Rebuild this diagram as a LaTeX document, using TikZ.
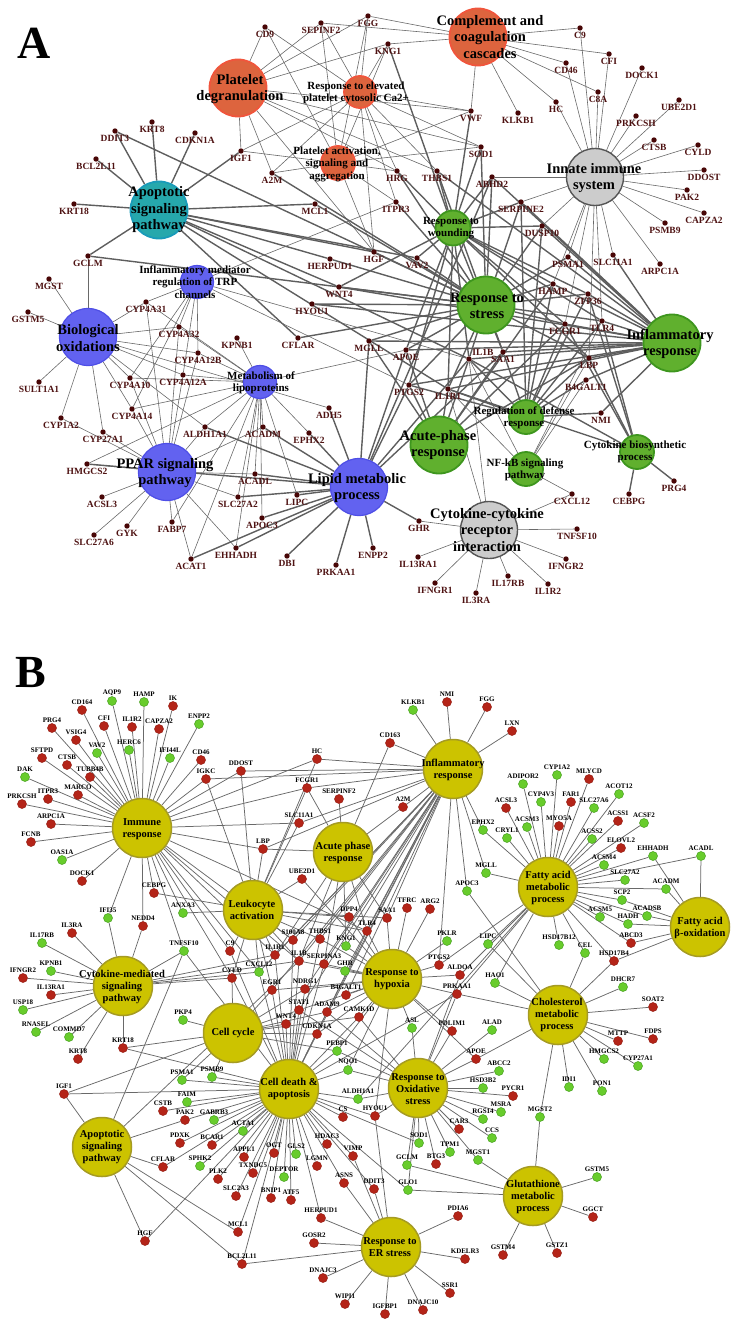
\documentclass[tikz,border=0pt]{standalone}
\usepackage{fontspec}
\setmainfont{Liberation Serif}
\usepackage{xcolor}
\usetikzlibrary{backgrounds}

\definecolor{pltfill}{RGB}{221,100,62}
\definecolor{pltline}{RGB}{240,85,60}
\definecolor{tealfill}{RGB}{38,168,172}
\definecolor{tealline}{RGB}{25,155,185}
\definecolor{grayfill}{RGB}{204,204,204}
\definecolor{grayline}{RGB}{85,85,85}
\definecolor{bluefill}{RGB}{98,98,240}
\definecolor{blueline}{RGB}{78,78,230}
\definecolor{greenfill}{RGB}{96,176,46}
\definecolor{greenline}{RGB}{62,150,30}
\definecolor{genedot}{RGB}{72,6,6}
\definecolor{genetext}{RGB}{78,18,18}
\definecolor{edgegray}{RGB}{105,105,105}
\definecolor{yelfill}{RGB}{204,195,0}
\definecolor{yelline}{RGB}{165,155,35}
\definecolor{redfill}{RGB}{180,36,24}
\definecolor{redline}{RGB}{150,30,20}
\definecolor{grnfill}{RGB}{104,204,44}
\definecolor{grnline}{RGB}{70,160,30}

\begin{document}
\begin{tikzpicture}[x=1pt, y=-1pt, every node/.style={font=\normalfont}]
    % Define styles
    \tikzstyle{ahub} = [circle, inner sep=0, line width=1.8]
    \tikzstyle{biglab} = [font=\bfseries\fontsize{14.5}{16.5}\selectfont, align=center, inner sep=0]
    \tikzstyle{smalllab} = [font=\bfseries\fontsize{11}{12.5}\selectfont, align=center, inner sep=0]
    \tikzstyle{agene} = [circle, fill=genedot, inner sep=0, minimum size=5.4]
    \tikzstyle{alabel} = [font=\bfseries\fontsize{9.5}{10}\selectfont, text=genetext, inner sep=0.5pt, label distance=0.8pt]
    \tikzstyle{thinline} = [draw=edgegray, line width=0.6]
    \tikzstyle{thickline} = [draw=edgegray!90!black, line width=1.4]
    \tikzstyle{bhub} = [circle, fill=yelfill, draw=yelline, line width=1.5, inner sep=0, minimum size=59]
    \tikzstyle{bhublab} = [font=\bfseries\fontsize{10.5}{12}\selectfont, align=center, inner sep=0]
    \tikzstyle{redgene} = [circle, fill=redfill, draw=redline, line width=0.5, inner sep=0, minimum size=9]
    \tikzstyle{greengene} = [circle, fill=grnfill, draw=grnline, line width=0.5, inner sep=0, minimum size=9]
    \tikzstyle{blabel} = [font=\bfseries\fontsize{7}{7.5}\selectfont, text=black, inner sep=0.3pt, label distance=0.6pt]
    \tikzstyle{bline} = [draw=edgegray, line width=0.75]

    \useasboundingbox (0,0) rectangle (738,1343);

    % ---------------- Panel A ----------------
    \node (panelA) at (34,43) {\bfseries\fontsize{46}{46}\selectfont A};

    % Platelet / complement hubs
    \node (plt-degr) [ahub, fill=pltfill, draw=pltline, minimum size=57] at (238,88) {};
    \node (plt-degr-t) [biglab] at (240,89) {Platelet\\degranulation};
    \node (plt-ca) [ahub, fill=pltfill, draw=pltline, minimum size=32] at (360,92) {};
    \node (plt-ca-t) [smalllab] at (356,93) {Response to elevated\\platelet cytosolic Ca2+};
    \node (plt-act) [ahub, fill=pltfill, draw=pltline, minimum size=34] at (338,163) {};
    \node (plt-act-t) [smalllab] at (337,164) {Platelet activation,\\signaling and\\aggregation};
    \node (compl) [ahub, fill=pltfill, draw=pltline, minimum size=57] at (478,37) {};
    \node (compl-t) [biglab] at (490,37) {Complement and\\coagulation\\cascades};

    % Apoptosis and immune hubs
    \node (apopA) [ahub, fill=tealfill, draw=tealline, minimum size=57] at (159,210) {};
    \node (apopA-t) [biglab] at (159,210) {Apoptotic\\signaling\\pathway};
    \node (innate) [ahub, fill=grayfill, draw=grayline, line width=1.4, minimum size=57] at (595,177) {};
    \node (innate-t) [biglab] at (594,178) {Innate immune\\system};
    \node (cytrec) [ahub, fill=grayfill, draw=grayline, line width=1.4, minimum size=57] at (489,530) {};
    \node (cytrec-t) [biglab] at (487,530) {Cytokine-cytokine\\receptor\\interaction};

    % Lipid hubs
    \node (trp) [ahub, fill=bluefill, draw=blueline, line width=1.2, minimum size=33] at (197,282) {};
    \node (trp-t) [smalllab] at (195,282) {Inflammatory mediator\\regulation of TRP\\channels};
    \node (biox) [ahub, fill=bluefill, draw=blueline, line width=1.2, minimum size=57] at (88,337) {};
    \node (biox-t) [biglab] at (88,338) {Biological\\oxidations};
    \node (lipo) [ahub, fill=bluefill, draw=blueline, line width=1.2, minimum size=33] at (260,382) {};
    \node (lipo-t) [smalllab] at (261,383) {Metabolism of\\lipoproteins};
    \node (ppar) [ahub, fill=bluefill, draw=blueline, line width=1.2, minimum size=57] at (167,472) {};
    \node (ppar-t) [biglab] at (165,473) {PPAR signaling\\pathway};
    \node (lipid) [ahub, fill=bluefill, draw=blueline, line width=1.2, minimum size=57] at (359,487) {};
    \node (lipid-t) [biglab] at (357,488) {Lipid metabolic\\process};

    % Stress and inflammation hubs
    \node (wound) [ahub, fill=greenfill, draw=greenline, minimum size=35] at (453,228) {};
    \node (wound-t) [smalllab] at (451,228) {Response to\\wounding};
    \node (stress) [ahub, fill=greenfill, draw=greenline, minimum size=57] at (486,305) {};
    \node (stress-t) [biglab] at (487,306) {Response to\\stress};
    \node (inflA) [ahub, fill=greenfill, draw=greenline, minimum size=57] at (672,343) {};
    \node (inflA-t) [biglab] at (670,344) {Inflammatory\\response};
    \node (acute) [ahub, fill=greenfill, draw=greenline, minimum size=57] at (439,445) {};
    \node (acute-t) [biglab] at (438,445) {Acute-phase\\response};
    \node (regdef) [ahub, fill=greenfill, draw=greenline, minimum size=34] at (526,417) {};
    \node (regdef-t) [smalllab] at (524,418) {Regulation of defense\\response};
    \node (nfkb) [ahub, fill=greenfill, draw=greenline, minimum size=34] at (526,469) {};
    \node (nfkb-t) [smalllab] at (525,470) {NF-kB signaling\\pathway};
    \node (cytbio) [ahub, fill=greenfill, draw=greenline, minimum size=34] at (637,452) {};
    \node (cytbio-t) [smalllab] at (635,452) {Cytokine biosynthetic\\process};

    % Genes of panel A
    \foreach \g/\gx/\gy in {DDIT3/115/131, KRT8/152/122, CDKN1A/195/133, BCL2L11/96/159, IGF1/241/151,
        KRT18/74/204, GCLM/88/256, MGST/49/279, CYP4A31/146/302, GSTM5/28/312,
        CD9/265/27, SEPINF2/321/23, FGG/368/16, KNG1/388/44, VWF/471/111, SOD1/481/147,
        A2M/272/173, HRG/397/171, THBS1/437/171, ABHD2/492/177, MCL1/315/204, ITPR3/396/202,
        HGF/374/252, HERPUD1/330/259, VAV2/417/258, WNT4/339/287, HYOU1/312/304,
        C9/580/28, CFI/609/54, CD46/566/63, DOCK1/642/68, C8A/598/92, HC/556/102, KLKB1/518/113,
        UBE2D1/679/100, PRKCSH/636/116, CTSB/654/140, CYLD/698/145, DDOST/704/170, PAK2/687/190,
        CAPZA2/704/213, PSMB9/665/223, ARPC1A/660/264, SERPINE2/521/202, DUSP10/542/226,
        PSMA1/568/257, SLC11A1/613/255, HAMP/553/284, ZFP36/588/294,
        FCGR1/565/324, TLR4/602/321, SAA1/503/352, LBP/589/358, B4GALT1/586/380, NMI/601/413,
        PRG4/674/481, CEBPG/629/494, CXCL12/572/494, TNFSF10/577/529, IFNGR2/566/559,
        IL17RB/508/576, IL1R2/548/584,
        CFLAR/298/338, MGLL/369/341, APOE/406/350, PTGS2/409/385, IL1R1/448/389, ADH5/329/408,
        ACADM/263/427, EPHX2/309/433, ACADL/255/474, LIPC/297/495, APOC3/262/518, DBI/287/556,
        PRKAA1/336/565, ENPP2/373/548, GHR/419/521, IL13RA1/418/557, IFNGR1/435/583, IL3RA/476/593,
        CYP4A32/179/327, KPNB1/237/338, CYP4A12B/198/353, CYP4A12A/183/375, CYP4A10/130/378,
        SULT1A1/39/382, CYP4A14/132/409, CYP1A2/61/418, CYP27A1/103/432, ALDH1A1/205/427,
        HMGCS2/87/464, ACSL3/102/497, SLC27A6/94/535, GYK/127/526, FABP7/172/522, ACAT1/191/559,
        EHHADH/236/548, SLC27A2/238/497}
        \node (a-\g) [agene, label={[alabel]below:\g}] at (\gx,\gy) {};
    \node (a-IL1B) [agene, label={[alabel]above right:IL1B}] at (469,359) {};

    % Edges of panel A
    \begin{scope}[on background layer]
        \foreach \g in {CD9,SEPINF2,FGG,KNG1,VWF,SOD1,IGF1,A2M,HRG,THBS1,HGF}
            \draw [thinline] (plt-degr) -- (a-\g);
        \foreach \g in {CD9,SEPINF2,FGG,KNG1,VWF,SOD1,IGF1,A2M,HRG,THBS1,ITPR3,HGF}
            \draw [thinline] (plt-ca) -- (a-\g);
        \foreach \g in {CD9,SEPINF2,FGG,KNG1,VWF,SOD1,IGF1,A2M,HRG,ITPR3,HGF}
            \draw [thinline] (plt-act) -- (a-\g);
        \foreach \g in {FGG,KNG1,SEPINF2,C9,CFI,CD46,C8A,HC,KLKB1,VWF}
            \draw [thinline] (compl) -- (a-\g);
        \foreach \g in {C9,CFI,CD46,C8A,HC,DOCK1,PRKCSH,UBE2D1,CTSB,CYLD,DDOST,PAK2,CAPZA2,PSMB9,
            ARPC1A,SLC11A1,PSMA1,DUSP10,SERPINE2,ABHD2,HAMP,FCGR1,TLR4,LBP}
            \draw [thinline] (innate) -- (a-\g);
        \foreach \g in {DDIT3,KRT8,CDKN1A,BCL2L11,IGF1,KRT18,GCLM,MCL1,HGF,HERPUD1,VAV2,WNT4,CFLAR,IL1B,IL1R1}
            \draw [thickline] (apopA) -- (a-\g);
        \foreach \g in {CYP4A31,CYP4A32,CYP4A12B,CYP4A12A,CYP4A10,CYP4A14,ITPR3,IL1B,PTGS2}
            \draw [thinline] (trp) -- (a-\g);
        \foreach \g in {GSTM5,MGST,SULT1A1,CYP1A2,CYP27A1,CYP4A31,CYP4A32,CYP4A12B,CYP4A12A,CYP4A10,
            CYP4A14,ALDH1A1,GCLM,ADH5}
            \draw [thinline] (biox) -- (a-\g);
        \foreach \g in {KPNB1,CYP4A31,CYP4A32,CYP4A12B,CYP4A12A,CYP4A10,CYP4A14,ALDH1A1,ACADM,EPHX2,
            LIPC,APOC3,ACADL,SLC27A2,EHHADH,ACAT1,FABP7,HMGCS2,APOE}
            \draw [thinline] (lipo) -- (a-\g);
        \foreach \g in {HMGCS2,ACSL3,SLC27A6,GYK,FABP7,ACAT1,EHHADH,SLC27A2,ACADL,ACADM,CYP4A14,CYP4A10,
            CYP27A1,CYP4A31,CYP4A32,CYP4A12A,CYP4A12B,ALDH1A1,CYP1A2}
            \draw [thinline] (ppar) -- (a-\g);
        \foreach \g in {ADH5,EPHX2,ACADM,ACADL,LIPC,APOC3,DBI,PRKAA1,ENPP2,GHR,MGLL,APOE,PTGS2,SLC27A2,
            EHHADH,IL1B,SAA1,ABHD2,ALDH1A1,ACAT1,HMGCS2}
            \draw [thickline] (lipid) -- (a-\g);
        \foreach \g in {VWF,THBS1,HRG,SERPINE2,ABHD2,SOD1,KNG1,WNT4,VAV2,IL1B,IL1R1,SAA1,TLR4,PTGS2,APOE,
            LBP,FCGR1,ZFP36,DUSP10,HAMP}
            \draw [thickline] (wound) -- (a-\g);
        \foreach \g in {MCL1,HGF,HERPUD1,VAV2,WNT4,HYOU1,SOD1,THBS1,HRG,ABHD2,SERPINE2,DUSP10,PSMA1,HAMP,
            ZFP36,FCGR1,TLR4,SAA1,LBP,IL1B,IL1R1,PTGS2,APOE,MGLL,CFLAR,ITPR3,A2M,DDIT3,GCLM}
            \draw [thickline] (stress) -- (a-\g);
        \foreach \g in {SLC11A1,SERPINE2,DUSP10,HAMP,ZFP36,FCGR1,TLR4,SAA1,LBP,B4GALT1,IL1B,IL1R1,NMI,
            PTGS2,APOE,MGLL,HYOU1,WNT4,ABHD2,THBS1,PSMA1}
            \draw [thickline] (inflA) -- (a-\g);
        \foreach \g in {IL1B,IL1R1,SAA1,PTGS2,HAMP,LBP,APOE,FCGR1,MGLL}
            \draw [thickline] (acute) -- (a-\g);
        \foreach \g in {IL1B,IL1R1,TLR4,LBP,NMI,SAA1,FCGR1,HAMP,ZFP36,PTGS2,B4GALT1,DUSP10,SERPINE2}
            \draw [thickline] (regdef) -- (a-\g);
        \foreach \g in {IL1B,IL1R1,TLR4,LBP,CXCL12,B4GALT1}
            \draw [thinline] (nfkb) -- (a-\g);
        \foreach \g in {CEBPG,PRG4,TLR4,LBP,IL1B,ZFP36,IL1R1,FCGR1}
            \draw [thickline] (cytbio) -- (a-\g);
        \foreach \g in {GHR,IL13RA1,IFNGR1,IL3RA,IL17RB,IL1R2,IFNGR2,TNFSF10,CXCL12,IL1B,IL1R1}
            \draw [thinline] (cytrec) -- (a-\g);
    \end{scope}

    % ---------------- Panel B ----------------
    \node (panelB) at (31,673) {\bfseries\fontsize{46}{46}\selectfont B};

    % Process hubs
    \node (immune) [bhub] at (142,828) {};
    \node (immune-t) [bhublab] at (142,829) {Immune\\response};
    \node (cytmed) [bhub] at (123,986) {};
    \node (cytmed-t) [bhublab] at (122,987) {Cytokine-mediated\\signaling\\pathway};
    \node (leuko) [bhub] at (253,910) {};
    \node (leuko-t) [bhublab] at (252,910) {Leukocyte\\activation};
    \node (acuteB) [bhub] at (343,852) {};
    \node (acuteB-t) [bhublab] at (343,853) {Acute phase\\response};
    \node (inflB) [bhub] at (453,769) {};
    \node (inflB-t) [bhublab] at (453,770) {Inflammatory\\response};
    \node (hypoxia) [bhub] at (392,979) {};
    \node (hypoxia-t) [bhublab] at (392,979) {Response to\\hypoxia};
    \node (fatty) [bhub] at (548,887) {};
    \node (fatty-t) [bhublab] at (548,888) {Fatty acid\\metabolic\\process};
    \node (fabox) [bhub] at (700,927) {};
    \node (fabox-t) [bhublab] at (700,928) {Fatty acid\\β-oxidation};
    \node (chol) [bhub] at (558,1015) {};
    \node (chol-t) [bhublab] at (557,1015) {Cholesterol\\metabolic\\process};
    \node (cellcyc) [bhub] at (233,1033) {};
    \node (cellcyc-t) [bhublab] at (233,1033) {Cell cycle};
    \node (death) [bhub] at (289,1089) {};
    \node (death-t) [bhublab] at (289,1089) {Cell death \&\\apoptosis};
    \node (oxid) [bhub] at (418,1088) {};
    \node (oxid-t) [bhublab] at (418,1089) {Response to\\Oxidative\\stress};
    \node (apopB) [bhub] at (102,1147) {};
    \node (apopB-t) [bhublab] at (102,1147) {Apoptotic\\signaling\\pathway};
    \node (erstress) [bhub] at (391,1247) {};
    \node (erstress-t) [bhublab] at (390,1247) {Response to\\ER stress};
    \node (gluta) [bhub] at (533,1196) {};
    \node (gluta-t) [bhublab] at (533,1197) {Glutathione\\metabolic\\process};

    % Red genes of panel B
    \foreach \g/\gx/\gy in {IK/173/706, CD164/82/710, PRG4/52/728, CFI/104/726, IL1R2/132/727, CAPZA2/159/729,
        VSIG4/76/740, CD46/201/760, SFTPD/42/758, CTSB/67/765, TUBB4B/90/777, IGKC/206/779, DDOST/241/771,
        MARCO/78/795, ITPR3/48/799, PRKCSH/22/804, ARPC1A/51/824, FCNB/31/842, DOCK1/82/881,
        CEBPG/154/893, NEDD4/143/926, IL3RA/72/933, C9/230/951, IFNGR2/23/978, CYLD/232/978,
        IL13RA1/51/995, KRT8/78/1059, KRT18/123/1048, IGF1/64/1094, CSTB/163/1111, PAK2/185/1120,
        PDXK/180/1143, BCAR1/212/1145, APPL1/244/1157, CFLAR/163/1167, TXNDC5/253/1173, PLK2/218/1179,
        SLC2A3/236/1196, MCL1/238/1232, HGF/145/1241, BCL2L11/242/1264, NMI/447/702, FGG/487/707,
        CD163/390/743, HC/317/759, FCGR1/307/788, SERPINF2/339/799, A2M/403/807, SLC11A1/299/823,
        LBP/263/849, UBE2D1/302/879, TFRC/407/908, ARG2/430/909, DPP4/349/917, SAA1/387/918,
        TLR4/367/931, THBS1/320/939, S100A8/293/940, IL1R1/275/955, IL1B/299/961, SERPINA3/324/964,
        PTGS2/439/965, ALDOA/460/975, EGR1/272/990, NDRG1/305/989, B4GALT1/346/995, PRKAA1/457/994,
        LXN/512/731, MLYCD/589/779, FAR1/571/802, ACSL3/506/808, MYO5A/559/826, ACSS1/618/821,
        ELOVL2/621/848, ABCD3/631/943, HSD17B4/614/961, STAT1/299/1010, ADAM9/327/1012, WNT4/286/1024,
        CAMK1D/359/1017, CDKN1A/317/1034, PDLIM1/452/1031, APOE/476/1059, CS/343/1117, HYOU1/375/1116,
        CAR3/459/1129, BTG3/436/1164, HDAC3/327/1144, VIMP/353/1156, LGMN/317/1166, OGT/274/1153,
        ASNS/344/1183, DDIT3/374/1189, BNIP1/271/1198, ATF5/291/1200, HERPUD1/321/1218, PDIA6/458/1216,
        GOSR2/314/1243, KDELR3/465/1259, DNAJC3/323/1278, SSR1/450/1293, WIPI1/345/1304,
        IGFBP1/385/1314, DNAJC10/423/1310, SOAT2/653/1007, MTTP/618/1041, FDPS/653/1039,
        PYCR1/513/1096, GGCT/593/1217, GSTM4/503/1255, GSTZ1/557/1253}
        \node (b-\g) [redgene, label={[blabel]above:\g}] at (\gx,\gy) {};

    % Green genes of panel B
    \foreach \g/\gx/\gy in {AQP9/112/701, HAMP/144/702, ENPP2/199/724, VAV2/97/753, HERC6/129/750,
        IFI44L/170/758, DAK/25/777, OAS1A/62/860, IFI35/108/918, ANXA3/183/913, IL17RB/42/943,
        TNFSF10/184/951, KPNB1/51/971, CXCL12/259/972, USP18/23/1010, RNASEL/36/1032, COMMD7/69/1037,
        PKP4/183/1020, PSMA1/182/1080, PSMB9/212/1077, FAIM/187/1102, GABRB3/214/1120, ACTA1/243/1131,
        SPHK2/200/1166, KLKB1/413/710, EPHX2/483/830, MGLL/486/873, APOC3/467/891, KNG1/346/946,
        PKLR/447/941, LIPC/488/944, GHR/345/971, HAO1/495/983, CYP1A2/557/775, ADIPOR2/523/784,
        ACOT12/619/794, CYP4V3/541/802, SLC27A6/594/808, ACSM3/527/827, ACSF2/644/823, CRYL1/507/838,
        ACSS2/592/839, EHHADH/653/856, ACADL/701/856, ACSM4/604/865, SLC27A2/625/880, ACADM/666/889,
        SCP2/622/900, ACADSB/647/916, ACSM5/600/917, HADH/628/924, HSD17B12/559/945, CEL/585/953,
        DHCR7/623/987, PEBP1/337/1051, NQO1/348/1070, ASL/412/1028, ALAD/492/1030, ABCC2/499/1071,
        HSD3B2/483/1088, ALDH1A1/358/1099, RGS14/483/1119, CCS/492/1138, SOD1/419/1143, TPM1/450/1152,
        MGST1/478/1160, GCLM/407/1165, GLS2/296/1154, DEPTOR/284/1177, GLO1/408/1190,
        HMGCS2/604/1059, CYP27A1/638/1066, IDI1/569/1087, PON1/602/1091, MSRA/501/1112,
        MGST2/540/1117, GSTM5/597/1177}
        \node (b-\g) [greengene, label={[blabel]above:\g}] at (\gx,\gy) {};

    % Edges of panel B
    \begin{scope}[on background layer]
        \foreach \g in {AQP9,HAMP,IK,CD164,PRG4,CFI,IL1R2,CAPZA2,ENPP2,VSIG4,VAV2,HERC6,IFI44L,CD46,SFTPD,
            CTSB,TUBB4B,DAK,IGKC,DDOST,MARCO,ITPR3,PRKCSH,ARPC1A,FCNB,OAS1A,DOCK1,CEBPG,IFI35,ANXA3,
            NEDD4,TNFSF10,C9,CYLD,HC,FCGR1,SLC11A1,LBP,IL1B,IL1R1,CXCL12,S100A8,TLR4}
            \draw [bline] (immune) -- (b-\g);
        \foreach \g in {IFI35,NEDD4,IL3RA,IL17RB,KPNB1,IFNGR2,IL13RA1,USP18,RNASEL,COMMD7,KRT8,KRT18,
            CXCL12,CYLD,IL1B,IL1R1,TNFSF10}
            \draw [bline] (cytmed) -- (b-\g);
        \foreach \g in {DDOST,IGKC,CEBPG,ANXA3,C9,CYLD,CXCL12,LBP,SLC11A1,UBE2D1,IL1R1,IL1B,S100A8,THBS1,
            EGR1,DPP4,TLR4,FCGR1,HC,SAA1}
            \draw [bline] (leuko) -- (b-\g);
        \foreach \g in {SERPINF2,CD163,A2M,LBP,SAA1,KNG1,SERPINA3,IL1B,IL1R1,TLR4,FCGR1}
            \draw [bline] (acuteB) -- (b-\g);
        \foreach \g in {KLKB1,NMI,FGG,LXN,CD163,HC,FCGR1,A2M,SLC11A1,LBP,SAA1,TLR4,THBS1,S100A8,KNG1,
            IL1B,IL1R1,SERPINA3,GHR,PTGS2,CXCL12,B4GALT1,EPHX2,MGLL,APOC3,DDOST,IGKC,EGR1,NDRG1,
            CDKN1A,ADAM9,STAT1}
            \draw [bline] (inflB) -- (b-\g);
        \foreach \g in {TFRC,ARG2,DPP4,SAA1,TLR4,THBS1,KNG1,PKLR,PTGS2,ALDOA,PRKAA1,EGR1,NDRG1,B4GALT1,
            IL1B,SERPINA3,GHR,STAT1,ADAM9,CAMK1D,CDKN1A,ASL,PDLIM1,APOE,HYOU1,PEBP1,NQO1,UBE2D1}
            \draw [bline] (hypoxia) -- (b-\g);
        \foreach \g in {ACSL3,ADIPOR2,CYP1A2,MLYCD,ACOT12,FAR1,CYP4V3,SLC27A6,MYO5A,ACSM3,ACSS1,ACSF2,
            CRYL1,ACSS2,ELOVL2,EHHADH,ACSM4,SLC27A2,ACADM,SCP2,ACADSB,ACSM5,HADH,ABCD3,HSD17B12,CEL,
            HSD17B4,EPHX2,MGLL,LIPC,HAO1,PTGS2,PRKAA1,ALDH1A1,ACADL,ALDOA}
            \draw [bline] (fatty) -- (b-\g);
        \foreach \g in {EHHADH,ACADL,ACADM,ACADSB,HADH,ABCD3,HSD17B4,SCP2}
            \draw [bline] (fabox) -- (b-\g);
        \foreach \g in {DHCR7,SOAT2,MTTP,FDPS,HMGCS2,CYP27A1,IDI1,PON1,MGST2,APOE,HSD17B4,CEL,LIPC,
            APOC3,HAO1,PRKAA1}
            \draw [bline] (chol) -- (b-\g);
        \foreach \g in {PKP4,KRT18,PSMA1,PSMB9,IGF1,CDKN1A,STAT1,WNT4,CYLD,EGR1,NDRG1,CAMK1D,PEBP1,ADAM9}
            \draw [bline] (cellcyc) -- (b-\g);
        \foreach \g in {PSMA1,PSMB9,FAIM,CSTB,PAK2,GABRB3,ACTA1,PDXK,BCAR1,APPL1,SPHK2,TXNDC5,PLK2,
            SLC2A3,MCL1,BCL2L11,OGT,GLS2,DEPTOR,BNIP1,ATF5,LGMN,HDAC3,ASNS,HERPUD1,CS,HYOU1,DDIT3,VIMP,
            ALDH1A1,NQO1,PEBP1,CDKN1A,WNT4,STAT1,ADAM9,CAMK1D,EGR1,NDRG1,IL1B,IL1R1,CXCL12,CYLD,C9,
            TNFSF10,IGF1,KRT18,SOD1,TLR4,THBS1,S100A8,SERPINA3,PRKAA1,HGF,CFLAR,GLO1}
            \draw [bline] (death) -- (b-\g);
        \foreach \g in {ASL,PDLIM1,ALAD,APOE,ABCC2,HSD3B2,PYCR1,MSRA,RGS14,CAR3,CCS,SOD1,TPM1,MGST1,BTG3,
            GCLM,GLO1,HYOU1,ALDH1A1,NQO1,PEBP1,CAMK1D,ADAM9,PRKAA1,ALDOA,STAT1}
            \draw [bline] (oxid) -- (b-\g);
        \foreach \g in {IGF1,CFLAR,HGF,MCL1,BCL2L11,PAK2,TNFSF10,IL1B}
            \draw [bline] (apopB) -- (b-\g);
        \foreach \g in {HERPUD1,GOSR2,DNAJC3,WIPI1,IGFBP1,DNAJC10,SSR1,KDELR3,PDIA6,ASNS,DDIT3,VIMP,
            HYOU1,BCL2L11}
            \draw [bline] (erstress) -- (b-\g);
        \foreach \g in {MGST2,GSTM5,GGCT,GSTZ1,GSTM4,MGST1,GCLM,GLO1}
            \draw [bline] (gluta) -- (b-\g);
    \end{scope}
\end{tikzpicture}
\end{document}
